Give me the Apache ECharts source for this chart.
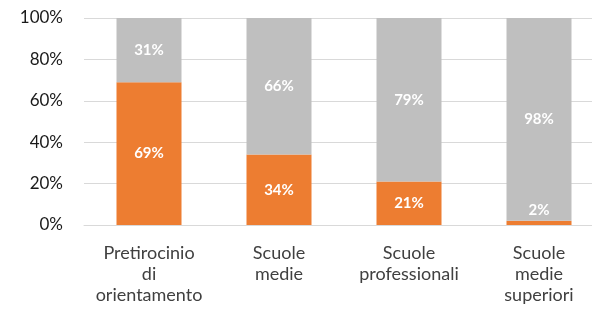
<!DOCTYPE html>
<html lang="it">
<head>
<meta charset="UTF-8">
<title>Orientamento</title>
<script src="https://cdn.jsdelivr.net/npm/echarts@6/dist/echarts.min.js"></script>
<style>
html, body { margin: 0; padding: 0; background: #fff; overflow: hidden; }
/* plot area runs past the right edge of the window, as in the source */
#chart { width: 604px; height: 313px; }
</style>
</head>
<body>
<div id="chart"></div>
<script>
const categories = ['Pretirocinio\ndi\norientamento', 'Scuole\nmedie', 'Scuole\nprofessionali', 'Scuole\nmedie\nsuperiori'];
const orangeValues = [69, 34, 21, 2];
const grayValues = [31, 66, 79, 98];
const yTicks = [0, 20, 40, 60, 80, 100];

const chart = echarts.init(document.getElementById('chart'));

const labelStyle = {
  show: true,
  position: 'inside',
  color: '#fff',
  fontFamily: 'Lato',
  fontWeight: 'bold',
  fontSize: 15,
  formatter: p => p.value + '%'
};

chart.setOption({
  animation: false,
  grid: { left: 84, right: 0, top: 18, bottom: 88 },
  xAxis: {
    type: 'category',
    data: categories,
    axisTick: { show: false },
    axisLine: { lineStyle: { color: '#D9D9D9', width: 1 } },
    axisLabel: {
      color: '#404040',
      fontFamily: 'Lato',
      fontSize: 18,
      lineHeight: 21,
      margin: 18,
      interval: 0
    }
  },
  yAxis: {
    type: 'value',
    min: yTicks[0],
    max: yTicks[yTicks.length - 1],
    interval: 20,
    axisLine: { show: false },
    axisTick: { show: false },
    splitLine: { lineStyle: { color: '#D9D9D9', width: 1 } },
    axisLabel: {
      color: '#1a1a1a',
      fontFamily: 'Lato',
      fontSize: 17,
      margin: 21,
      formatter: v => v + '%'
    }
  },
  series: [
    {
      type: 'bar',
      stack: 'tot',
      barWidth: 65,
      itemStyle: { color: '#ED7D31' },
      label: labelStyle,
      data: orangeValues.map(v => v < 5 ? { value: v, label: { position: 'top', distance: 3 } } : v)
    },
    {
      type: 'bar',
      stack: 'tot',
      barWidth: 65,
      itemStyle: { color: '#BFBFBF' },
      label: labelStyle,
      data: grayValues
    }
  ]
});
</script>
</body>
</html>
